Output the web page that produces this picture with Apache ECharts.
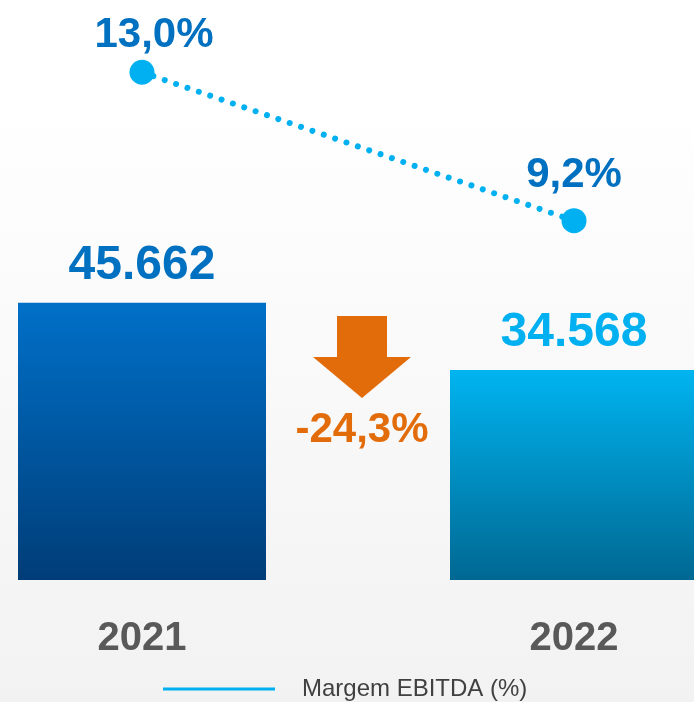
<!DOCTYPE html>
<html>
<head>
<meta charset="utf-8">
<script src="https://cdn.jsdelivr.net/npm/echarts@6/dist/echarts.min.js"></script>
<style>
html,body{margin:0;padding:0;overflow:hidden;width:694px;height:702px;position:relative;background:#fff;}
#c{position:absolute;left:-74px;top:0;width:864px;height:702px;}
</style>
</head>
<body>
<div id="c"></div>
<script>
var categories = ['2021', '2022'];
var ebitdaValues = [45662, 34568];
var ebitdaLabels = ['45.662', '34.568'];
var marginValues = [13.0, 9.2];
var marginLabels = ['13,0%', '9,2%'];
var changeLabel = '-24,3%';
var lineName = 'Margem EBITDA (%)';

var chart = echarts.init(document.getElementById('c'));
var FONT = '"Liberation Sans", Arial, sans-serif';
var SHIFT = 74;
var barColors = [
  ['#0070c8', '#003d78'],
  ['#00b4f0', '#006892']
];
var barLabelColors = ['#0070c0', '#00b0f0'];
var lineLabelOffsets = [[12, 9], [0, 0]];

var option = {
  animation: false,
  backgroundColor: {
    type: 'linear', x: 0, y: 0, x2: 0, y2: 1,
    colorStops: [
      {offset: 0, color: '#ffffff'},
      {offset: 0.14, color: '#ffffff'},
      {offset: 1, color: '#f2f2f2'}
    ]
  },
  grid: {left: 0, right: 0, top: 0, bottom: 122, containLabel: false},
  legend: {
    data: [{name: lineName, icon: 'rect'}],
    top: 672, left: 163 + SHIFT - 5,
    itemWidth: 112, itemHeight: 3,
    textStyle: {fontFamily: FONT, fontSize: 24, color: '#404040', padding: [0, 0, 0, 22]}
  },
  xAxis: {
    type: 'category', data: categories,
    axisLine: {show: false}, axisTick: {show: false},
    axisLabel: {fontFamily: FONT, fontWeight: 'bold', fontSize: 40, color: '#595959', margin: 39}
  },
  yAxis: [
    {type: 'value', min: 0, max: 95500, show: false, splitLine: {show: false}},
    {type: 'value', min: 0, max: 14.85, show: false, splitLine: {show: false}}
  ],
  series: [
    {
      type: 'bar', name: 'EBITDA', barWidth: 248, yAxisIndex: 0,
      data: ebitdaValues.map(function (v, i) {
        return {
          value: v,
          itemStyle: {color: {type: 'linear', x: 0, y: 0, x2: 0, y2: 1,
            colorStops: [{offset: 0, color: barColors[i][0]}, {offset: 1, color: barColors[i][1]}]}},
          label: {color: barLabelColors[i], formatter: ebitdaLabels[i]}
        };
      }),
      label: {show: true, position: 'top', distance: 13, fontFamily: FONT, fontWeight: 'bold', fontSize: 48}
    },
    {
      type: 'line', name: lineName, yAxisIndex: 1, z: 5,
      symbol: 'circle', symbolSize: 25,
      itemStyle: {color: '#00b0f0'},
      lineStyle: {color: '#00b0f0', width: 6, type: [0.01, 12], cap: 'round'},
      data: marginValues.map(function (v, i) {
        return {value: v, label: {formatter: marginLabels[i], offset: lineLabelOffsets[i]}};
      }),
      label: {show: true, position: 'top', distance: 12, fontFamily: FONT, fontWeight: 'bold', fontSize: 42, color: '#0070c0'}
    }
  ],
  graphic: [
    {
      type: 'polygon',
      shape: {points: [[337, 316], [387, 316], [387, 357], [411, 357], [362, 398], [313, 357], [337, 357]].map(function (p) { return [p[0] + SHIFT, p[1]]; })},
      style: {fill: '#e36c0a'}
    },
    {
      type: 'text',
      style: {text: changeLabel, x: 362 + SHIFT, y: 430, align: 'center', verticalAlign: 'middle',
        font: 'bold 42px ' + FONT, fill: '#e36c0a'}
    }
  ]
};
chart.setOption(option);
</script>
</body>
</html>
